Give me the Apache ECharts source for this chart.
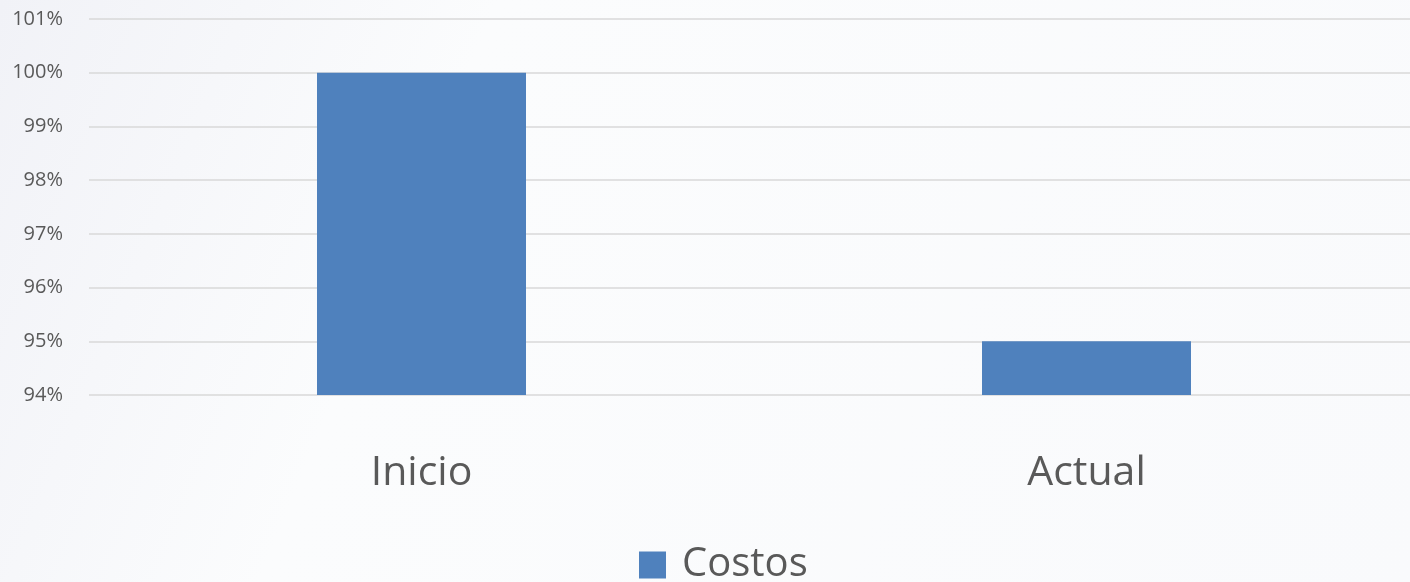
<!DOCTYPE html>
<html>
<head>
<meta charset="utf-8">
<script src="https://cdn.jsdelivr.net/npm/echarts@6/dist/echarts.min.js"></script>
<style>
  html, body { margin: 0; padding: 0; overflow: hidden; }
  #chart { width: 1420px; height: 582px; }
</style>
</head>
<body>
<div id="chart"></div>
<script>
// Cost comparison: start vs. current, as a percent of the initial budget
const categories = ['Inicio', 'Actual'];
const seriesName = 'Costos';
const costValues = [100, 95];
const yMin = 94;
const yMax = 101;
const yStep = 1;

const textColor = '#595959';
const fontFamily = '"Open Sans", "Noto Sans", sans-serif';

// The plot area runs slightly past the right edge of the visible page
const chart = echarts.init(document.getElementById('chart'), null, { renderer: 'canvas' });
chart.setOption({
  animation: false,
  backgroundColor: {
    type: 'linear', x: 0, y: 0, x2: 1, y2: 1,
    colorStops: [
      { offset: 0, color: '#f1f2f7' },
      { offset: 0.3, color: '#fbfcfd' },
      { offset: 1, color: '#f9fafc' }
    ]
  },
  textStyle: { fontFamily: fontFamily },
  grid: { left: 89, top: 19, bottom: 187, width: 1330, containLabel: false },
  legend: {
    data: [seriesName],
    left: 634,
    top: 540,
    icon: 'rect',
    itemWidth: 27,
    itemHeight: 27,
    textStyle: {
      color: textColor,
      fontSize: 40,
      fontFamily: fontFamily,
      padding: [0, 0, 0, 11]
    }
  },
  xAxis: {
    type: 'category',
    data: categories,
    axisLine: { show: false },
    axisTick: { show: false },
    axisLabel: { color: textColor, fontSize: 41, margin: 58, fontFamily: fontFamily }
  },
  yAxis: {
    type: 'value',
    min: yMin,
    max: yMax,
    interval: yStep,
    axisLine: { show: false },
    axisTick: { show: false },
    axisLabel: {
      color: textColor,
      fontSize: 20,
      margin: 26,
      fontFamily: fontFamily,
      formatter: v => v + '%'
    },
    splitLine: { lineStyle: { color: '#d9d9d9', width: 1.5 } }
  },
  series: [{
    name: seriesName,
    type: 'bar',
    data: costValues,
    barWidth: 209,
    itemStyle: { color: '#4f81bd' }
  }]
});
</script>
</body>
</html>
